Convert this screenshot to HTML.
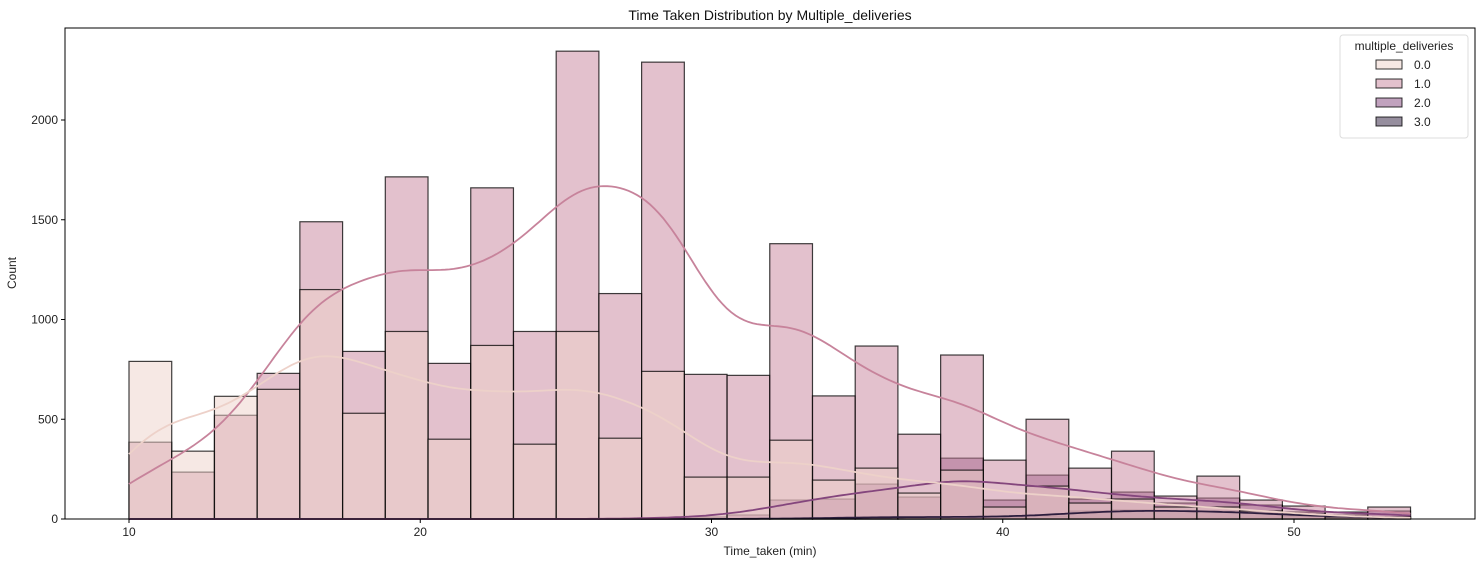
<!DOCTYPE html>
<html><head><meta charset="utf-8"><style>
body{margin:0;background:#fff;}
svg{display:block;font-family:"Liberation Sans","DejaVu Sans",sans-serif;}
</style></head><body>
<svg id="c" width="1483" height="563"></svg>
<script>
const categories=["0.0","1.0","2.0","3.0"];
const binStart=10, binWidth=1.4667;
const s0=[790,340,615,650,1150,530,940,400,870,375,940,405,740,210,210,395,195,255,130,245,60,165,80,100,60,60,40,25,10,10];
const s1=[385,235,520,730,1490,840,1715,780,1660,940,2345,1130,2290,725,720,1380,617,867,425,822,295,500,255,340,115,215,95,65,35,60];
const s2=[0,0,0,0,0,0,0,0,0,0,0,0,5,10,20,95,100,175,110,305,95,220,100,135,80,105,70,35,20,40];
const s3=[0,0,0,0,0,0,0,0,0,0,0,0,0,0,0,2,5,10,10,10,10,15,40,45,40,40,30,15,10,10];
const series=[s0,s1,s2,s3];
const xTicks=[10,20,30,40,50];
const yTicks=[0,500,1000,1500,2000];
const colors=["#edd1c9","#c7839b","#84467d","#2d1e3e"];
const L=65,R=1475,T=28,B=519;
const xs=v=>129+(v-10)*29.125;
const ys=v=>B-v*0.1995;
const svg=document.getElementById('c');
const NS="http://www.w3.org/2000/svg";
function mk(t,a,p){const e=document.createElementNS(NS,t);for(const k in a)e.setAttribute(k,a[k]);(p||svg).appendChild(e);return e;}
[3,2,1,0].forEach(si=>{
 const s=series[si];
 const g=mk('g',{});
 
 
 s.forEach((v,i)=>{
  if(v<=0)return;
  const x0=xs(binStart+i*binWidth),x1=xs(binStart+(i+1)*binWidth);
  const r=mk('rect',{x:x0,y:ys(v),width:x1-x0,height:ys(0)-ys(v),fill:colors[si],'fill-opacity':0.5,stroke:'#000','stroke-opacity':0.75,'stroke-width':1.2},g);
  
  
 });
});
[3,2,1,0].forEach(si=>{
 const s=series[si];
 const bw=1.62,pts=[];
 const xmin=binStart,xmax=binStart+s.length*binWidth;
 for(let k=0;k<=300;k++){
  const x=xmin+(xmax-xmin)*k/300;let d=0;
  s.forEach((v,i)=>{const c=binStart+(i+0.5)*binWidth;d+=v*Math.exp(-0.5*((x-c)/bw)**2);});
  d=d*binWidth/(bw*Math.sqrt(2*Math.PI));
  pts.push(xs(x).toFixed(1)+','+ys(d).toFixed(1));
 }
 const p=mk('polyline',{points:pts.join(' '),fill:'none',stroke:colors[si],'stroke-width':1.8});
 
 
});
const fr=mk('rect',{x:L,y:T,width:R-L,height:B-T,fill:'none',stroke:'#000','stroke-width':1});


xTicks.forEach(t=>{
 mk('line',{x1:xs(t),x2:xs(t),y1:B,y2:B+4,stroke:'#000'});
 const tx=mk('text',{x:xs(t),y:B+17,'font-size':12,'text-anchor':'middle',fill:'#222'});tx.textContent=t;
 
 
});
yTicks.forEach(t=>{
 mk('line',{x1:L-4,x2:L,y1:ys(t),y2:ys(t),stroke:'#000'});
 const tx=mk('text',{x:L-7,y:ys(t)+4,'font-size':12,'text-anchor':'end',fill:'#222'});tx.textContent=t;
 
 
});
let t=mk('text',{x:770,y:20,'font-size':14,'text-anchor':'middle',fill:'#111'});t.textContent='Time Taken Distribution by Multiple_deliveries';

t=mk('text',{x:770,y:555,'font-size':12,'text-anchor':'middle',fill:'#222'});t.textContent='Time_taken (min)';

t=mk('text',{x:16,y:273,'font-size':12,'text-anchor':'middle',fill:'#222',transform:'rotate(-90 16 273)'});t.textContent='Count';

const lg=mk('g',{});

mk('rect',{x:1340,y:35,width:128,height:103,rx:3,fill:'#fff','fill-opacity':0.8,stroke:'#ddd'},lg);
t=mk('text',{x:1404,y:50,'font-size':12,'text-anchor':'middle',fill:'#222'},lg);t.textContent='multiple_deliveries';
categories.forEach((c,i)=>{
 const y=60+i*19;
 const r=mk('rect',{x:1376,y:y,width:26,height:9,fill:colors[i],'fill-opacity':0.5,stroke:'#000','stroke-opacity':0.8},lg);
 
 const tx=mk('text',{x:1414,y:y+9,'font-size':12,fill:'#222'},lg);tx.textContent=c;
});
</script>
</body></html>
